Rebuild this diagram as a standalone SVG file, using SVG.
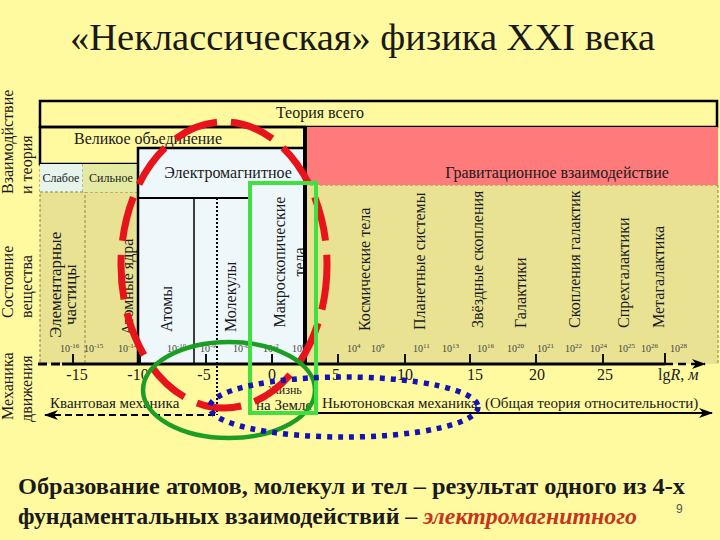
<svg xmlns="http://www.w3.org/2000/svg" width="720" height="540" viewBox="0 0 720 540">
<defs>
<style>
.sf{fill:#1a1a1a}
.hd{font-size:16px}
.vl{font-size:16px}
.vc{font-size:15px}
.cl{font-size:16px}
.sm{font-size:10px;fill:#444}
.ax{font-size:16px;fill:#1a1a1a}
.bd{stroke:#000;stroke-width:2.5;fill:none}
.dsh{stroke:#8f8450;stroke-width:1;stroke-dasharray:3 2;fill:none}
.tick{stroke:#111;stroke-width:2}
</style>
<marker id="ah" viewBox="0 0 14 10" refX="13" refY="5" markerWidth="14" markerHeight="10" markerUnits="userSpaceOnUse" orient="auto">
<path d="M0,0 L14,5 L0,10 L4,5 Z" fill="#000"/>
</marker>
</defs>
<rect width="720" height="540" fill="#FFF9A0"/>

<g id="title">
<text class="sf" style="font-family:'Liberation Serif',serif" x="70" y="50" font-size="37" textLength="585" lengthAdjust="spacingAndGlyphs">«Неклассическая» физика XXI века</text>
</g>

<g id="row-labels" class="sf vl">
<text style="font-family:'Liberation Serif',serif" transform="translate(13,194) rotate(-90)">Взаимодйствие</text>
<text style="font-family:'Liberation Serif',serif" transform="translate(32,194) rotate(-90)">и теория</text>
<text style="font-family:'Liberation Serif',serif" transform="translate(13,318) rotate(-90)">Состояние</text>
<text style="font-family:'Liberation Serif',serif" transform="translate(32,318) rotate(-90)">вещества</text>
<text style="font-family:'Liberation Serif',serif" transform="translate(13,420) rotate(-90)">Механика</text>
<text style="font-family:'Liberation Serif',serif" transform="translate(32,422) rotate(-90)">движения</text>
</g>

<g id="matter-area">
<rect x="40" y="164" width="678" height="200" fill="#E8E292"/>
<line class="dsh" x1="40" y1="164" x2="40" y2="364"/>
<line class="dsh" x1="85" y1="190" x2="85" y2="364"/>
<line class="dsh" x1="718" y1="185" x2="718" y2="364"/>
<line class="dsh" x1="305" y1="185" x2="718" y2="185"/>
</g>

<g id="theory-of-everything">
<rect x="40" y="101" width="677" height="26" fill="#D2D2D2" class="bd"/>
<text class="sf hd" style="font-family:'Liberation Serif',serif" x="320" y="118" text-anchor="middle">Теория всего</text>
</g>

<g id="gravitational">
<rect x="305" y="127" width="413" height="58" fill="#FF7B7B"/>
<text class="sf hd" style="font-family:'Liberation Serif',serif" x="557" y="178" text-anchor="middle">Гравитационное взаимодействие</text>
</g>

<g id="grand-unification">
<rect x="40" y="127" width="265" height="37" fill="#C8F0C0" class="bd"/>
<text class="sf hd" style="font-family:'Liberation Serif',serif" x="148" y="144" text-anchor="middle">Великое объединение</text>
</g>

<g id="weak">
<rect x="40" y="164" width="43" height="28" fill="#E6F4EC"/>
<line class="dsh" x1="83" y1="164" x2="83" y2="192"/>
<line class="dsh" x1="40" y1="192" x2="138" y2="192"/>
<text class="sf" style="font-family:'Liberation Serif',serif" font-size="12" x="61" y="182" text-anchor="middle">Слабое</text>
</g>

<g id="strong">
<rect x="83" y="164" width="55" height="28" fill="#E4EAA2"/>
<text class="sf" style="font-family:'Liberation Serif',serif" font-size="12" x="111" y="182" text-anchor="middle">Сильное</text>
</g>

<g id="electromagnetic">
<rect x="138" y="148" width="167" height="216" fill="#EEF7FA"/>
<path class="bd" d="M138,364 V148 H305"/>
<line x1="138" y1="198" x2="250" y2="198" stroke="#000" stroke-width="2"/>
<text class="sf hd" style="font-family:'Liberation Serif',serif" x="228" y="178" text-anchor="middle">Электромагнитное</text>
</g>

<g id="elementary-particles" class="sf vl">
<text style="font-family:'Liberation Serif',serif" transform="translate(61,338) rotate(-90)" font-size="17">Элементарные</text>
<text style="font-family:'Liberation Serif',serif" transform="translate(76,325) rotate(-90)" font-size="17">частицы</text>
</g>
<g id="nuclei" class="sf vl">
<text style="font-family:'Liberation Serif',serif" transform="translate(133,335) rotate(-90)">Атомные ядра</text>
</g>
<g id="atoms" class="sf vl">
<line x1="194" y1="198" x2="194" y2="364" stroke="#000" stroke-width="1.5"/>
<text style="font-family:'Liberation Serif',serif" transform="translate(172,332) rotate(-90)">Атомы</text>
</g>
<g id="molecules" class="sf vl">
<text style="font-family:'Liberation Serif',serif" transform="translate(236,332) rotate(-90)">Молекулы</text>
</g>
<g id="macro-bodies" class="sf vl">
<text style="font-family:'Liberation Serif',serif" transform="translate(285,262) rotate(-90)" text-anchor="middle">Макроскопические</text>
<text style="font-family:'Liberation Serif',serif" transform="translate(305,262) rotate(-90)" text-anchor="middle">тела</text>
</g>
<line x1="305" y1="127" x2="305" y2="365" stroke="#000" stroke-width="4"/>

<g id="cosmic-bodies" class="sf cl"><text style="font-family:'Liberation Serif',serif" transform="translate(370,331) rotate(-90)">Космические тела</text></g>
<g id="planetary-systems" class="sf cl"><text style="font-family:'Liberation Serif',serif" transform="translate(425,330) rotate(-90)">Планетные системы</text></g>
<g id="star-clusters" class="sf cl"><text style="font-family:'Liberation Serif',serif" transform="translate(483,328) rotate(-90)">Звёздные скопления</text></g>
<g id="galaxies" class="sf cl"><text style="font-family:'Liberation Serif',serif" transform="translate(526,328) rotate(-90)">Галактики</text></g>
<g id="galaxy-clusters" class="sf cl"><text style="font-family:'Liberation Serif',serif" transform="translate(580,328) rotate(-90)">Скопления  галактик</text></g>
<g id="supergalaxies" class="sf cl"><text style="font-family:'Liberation Serif',serif" transform="translate(629,328) rotate(-90)">Спрехгалактики</text></g>
<g id="metagalaxy" class="sf cl"><text style="font-family:'Liberation Serif',serif" transform="translate(664,328) rotate(-90)">Метагалактика</text></g>

<g id="size-labels" class="sm">
<text style="font-family:'Liberation Serif',serif" x="60" y="352">10<tspan dy="-4" font-size="7">-16</tspan></text>
<text style="font-family:'Liberation Serif',serif" x="84" y="352">10<tspan dy="-4" font-size="7">-15</tspan></text>
<text style="font-family:'Liberation Serif',serif" x="118" y="352">10<tspan dy="-4" font-size="7">-14</tspan></text>
<text style="font-family:'Liberation Serif',serif" x="167" y="352">10<tspan dy="-4" font-size="7">-10</tspan></text>
<text style="font-family:'Liberation Serif',serif" x="200" y="352">10<tspan dy="-4" font-size="7">-9</tspan></text>
<text style="font-family:'Liberation Serif',serif" x="233" y="352">10<tspan dy="-4" font-size="7">-6</tspan></text>
<text style="font-family:'Liberation Serif',serif" x="263" y="352">10<tspan dy="-4" font-size="7">-2</tspan></text>
<text style="font-family:'Liberation Serif',serif" x="292" y="352">10<tspan dy="-4" font-size="7">0</tspan></text>
<text style="font-family:'Liberation Serif',serif" x="347" y="352">10<tspan dy="-4" font-size="7">4</tspan></text>
<text style="font-family:'Liberation Serif',serif" x="371" y="352">10<tspan dy="-4" font-size="7">9</tspan></text>
<text style="font-family:'Liberation Serif',serif" x="413" y="352">10<tspan dy="-4" font-size="7">11</tspan></text>
<text style="font-family:'Liberation Serif',serif" x="442" y="352">10<tspan dy="-4" font-size="7">13</tspan></text>
<text style="font-family:'Liberation Serif',serif" x="477" y="352">10<tspan dy="-4" font-size="7">16</tspan></text>
<text style="font-family:'Liberation Serif',serif" x="507" y="352">10<tspan dy="-4" font-size="7">20</tspan></text>
<text style="font-family:'Liberation Serif',serif" x="537" y="352">10<tspan dy="-4" font-size="7">21</tspan></text>
<text style="font-family:'Liberation Serif',serif" x="565" y="352">10<tspan dy="-4" font-size="7">22</tspan></text>
<text style="font-family:'Liberation Serif',serif" x="590" y="352">10<tspan dy="-4" font-size="7">24</tspan></text>
<text style="font-family:'Liberation Serif',serif" x="618" y="352">10<tspan dy="-4" font-size="7">25</tspan></text>
<text style="font-family:'Liberation Serif',serif" x="641" y="352">10<tspan dy="-4" font-size="7">26</tspan></text>
<text style="font-family:'Liberation Serif',serif" x="670" y="352">10<tspan dy="-4" font-size="7">28</tspan></text>
</g>

<g id="axis">
<line x1="62" y1="364" x2="665" y2="364" stroke="#000" stroke-width="3"/>
<line x1="38" y1="364" x2="60" y2="364" stroke="#000" stroke-width="3" stroke-dasharray="9 4"/>
<line class="tick" x1="73" y1="354" x2="73" y2="364"/>
<line class="tick" x1="140" y1="354" x2="140" y2="364"/>
<line class="tick" x1="206" y1="354" x2="206" y2="364"/>
<line class="tick" x1="272" y1="354" x2="272" y2="364"/>
<line class="tick" x1="338" y1="354" x2="338" y2="364"/>
<line class="tick" x1="405" y1="354" x2="405" y2="364"/>
<line class="tick" x1="470" y1="354" x2="470" y2="364"/>
<line class="tick" x1="536" y1="354" x2="536" y2="364"/>
<line class="tick" x1="603" y1="354" x2="603" y2="364"/>
<line class="tick" x1="665" y1="353" x2="665" y2="365"/>
<text class="ax" style="font-family:'Liberation Serif',serif" x="77" y="380" text-anchor="middle">-15</text>
<text class="ax" style="font-family:'Liberation Serif',serif" x="138" y="380" text-anchor="middle">-10</text>
<text class="ax" style="font-family:'Liberation Serif',serif" x="204" y="380" text-anchor="middle">-5</text>
<text class="ax" style="font-family:'Liberation Serif',serif" x="272" y="380" text-anchor="middle">0</text>
<text class="ax" style="font-family:'Liberation Serif',serif" x="336" y="380" text-anchor="middle">5</text>
<text class="ax" style="font-family:'Liberation Serif',serif" x="405" y="380" text-anchor="middle">10</text>
<text class="ax" style="font-family:'Liberation Serif',serif" x="475" y="380" text-anchor="middle">15</text>
<text class="ax" style="font-family:'Liberation Serif',serif" x="537" y="380" text-anchor="middle">20</text>
<text class="ax" style="font-family:'Liberation Serif',serif" x="605" y="380" text-anchor="middle">25</text>
<text class="ax" style="font-family:'Liberation Serif',serif" x="658" y="380">lg<tspan font-style="italic">R</tspan>, <tspan font-style="italic">м</tspan></text>
</g>

<g id="quantum-mechanics">
<text class="sf vc" style="font-family:'Liberation Serif',serif" x="50" y="408">Квантовая механика</text>
</g>
<g id="life-on-earth">
<text class="sf" style="font-family:'Liberation Serif',serif" font-size="12" x="268" y="394">Жизнь</text>
<text class="sf vc" style="font-family:'Liberation Serif',serif" x="256" y="410">на Земле</text>
</g>
<g id="newtonian-mechanics">
<text class="sf vc" style="font-family:'Liberation Serif',serif" x="322" y="408">Ньютоновская механика</text>
<text class="sf vc" style="font-family:'Liberation Serif',serif" x="485" y="408">(Общая теория относительности)</text>
</g>

<g id="connectors" fill="none">
<line x1="217" y1="198" x2="217" y2="415" stroke="#000" stroke-width="2" stroke-dasharray="2 2"/>
<line x1="215" y1="415" x2="45" y2="415" stroke="#000" stroke-width="2" stroke-dasharray="7 4" marker-end="url(#ah)"/>
<line x1="316" y1="413" x2="712" y2="413" stroke="#000" stroke-width="2" marker-end="url(#ah)"/>
<line x1="665" y1="364" x2="705" y2="364" stroke="#000" stroke-width="2.5" stroke-dasharray="8 5" marker-end="url(#ah)"/>
</g>

<g id="highlights" fill="none">
<ellipse cx="224" cy="265" rx="103" ry="143" stroke="#E8141C" stroke-width="7" stroke-dasharray="45 14"/>
<ellipse cx="229" cy="390" rx="86" ry="48" stroke="#1C9E24" stroke-width="4.5"/>
<rect x="250" y="183" width="66" height="230" stroke="#3FE040" stroke-width="4"/>
<ellipse cx="344" cy="407" rx="134" ry="30" stroke="#1414B4" stroke-width="5.5" stroke-dasharray="5 6"/>
</g>

<g id="caption">
<text class="sf" style="font-family:'Liberation Serif',serif" font-size="22.5" font-weight="bold" x="18" y="494" textLength="667" lengthAdjust="spacingAndGlyphs">Образование атомов, молекул и тел – результат одного из 4-х</text>
<text class="sf" style="font-family:'Liberation Serif',serif" font-size="22.5" font-weight="bold" x="18" y="524" textLength="619" lengthAdjust="spacingAndGlyphs">фундаментальных взаимодействий – <tspan fill="#C5361A" font-style="italic">электромагнитного</tspan></text>
<text x="676" y="513" style="font-family:'Liberation Sans',sans-serif" font-size="12" fill="#555">9</text>
</g>
</svg>
